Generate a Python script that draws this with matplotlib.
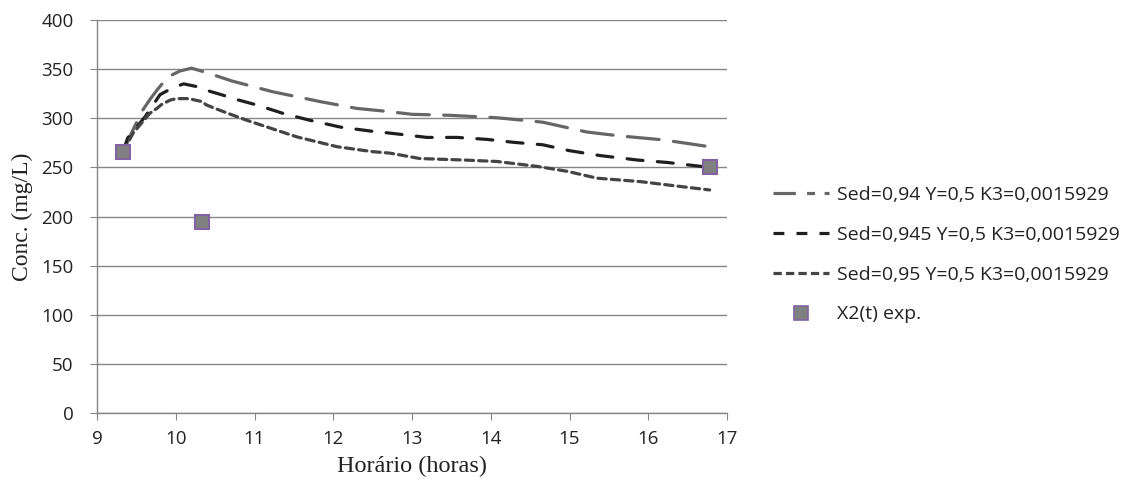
import matplotlib
matplotlib.use("Agg")
import matplotlib.pyplot as plt
from matplotlib.lines import Line2D

# Simulated concentration curves (hours, mg/L)
t_094 = [9.33, 9.45, 9.57, 9.68, 9.78, 9.90, 10.05, 10.20, 10.39, 10.71, 11.23, 11.83, 12.3, 12.68, 13.0, 13.48, 14.08, 14.66, 15.22, 15.64, 16.19, 16.78]
c_094 = [266, 287, 307, 320, 330.5, 342, 348, 351, 346.5, 338, 327, 317, 310, 307, 304, 303, 300.5, 296, 286, 282, 278, 271]

t_0945 = [9.33, 9.39, 9.61, 9.80, 9.95, 10.10, 10.28, 10.43, 10.60, 10.73, 11.03, 11.36, 11.7, 12.09, 12.47, 12.76, 13.19, 13.57, 13.95, 14.29, 14.66, 15.0, 15.39, 15.86, 16.24, 16.78]
c_0945 = [266, 280, 301.5, 324, 330.5, 335, 332, 327.5, 323.5, 320, 313.5, 305, 298, 291, 287, 284.5, 280.5, 280.5, 278.5, 275.5, 273, 267, 262, 257.5, 255, 250]

t_095 = [9.33, 9.46, 9.67, 9.76, 9.82, 9.93, 10.01, 10.14, 10.22, 10.33, 10.39, 10.50, 10.63, 10.73, 10.9, 11.2, 11.54, 12.05, 12.5, 12.72, 13.1, 13.65, 14.08, 14.59, 14.97, 15.35, 15.9, 16.31, 16.78]
c_095 = [266, 285, 305, 310, 314, 318.5, 320, 320, 319, 317, 313.5, 310, 306, 303, 298, 290, 281, 271, 266, 264.5, 259, 257.5, 256, 251, 246, 239, 235.5, 231.5, 227]

# Experimental measurements
t_exp = [9.33, 10.33, 16.78]
c_exp = [266, 194, 250]

labels = ["Sed=0,94 Y=0,5 K3=0,0015929",
          "Sed=0,945 Y=0,5 K3=0,0015929",
          "Sed=0,95 Y=0,5 K3=0,0015929",
          "X2(t) exp."]

xticks = list(range(9, 18))
yticks = list(range(0, 401, 50))

axis_gray = "#868686"
text_col = "#222222"
sans = ["Open Sans", "DejaVu Sans"]
serif = ["Liberation Serif", "DejaVu Serif"]

c1, c2, c3 = "#666666", "#1f1f1f", "#444444"
d1, d2, d3 = (10, 4.5), (5, 4.5), (2.6, 1.6)

fig = plt.figure(figsize=(11.4, 4.88), dpi=100)
ax = fig.add_axes([97 / 1140, 75 / 488, 630 / 1140, 393 / 488])

l1, = ax.plot(t_094, c_094, color=c1, lw=2.3, dashes=d1, dash_capstyle="round")
l2, = ax.plot(t_0945, c_0945, color=c2, lw=2.3, dashes=d2, dash_capstyle="round")
l3, = ax.plot(t_095, c_095, color=c3, lw=2.3, dashes=d3, dash_capstyle="round")
pts, = ax.plot(t_exp, c_exp, ls="none", marker="s", ms=10.5, mfc="#808080",
               mec="#8064a2", mew=1.5, zorder=5)

ax.set_xlim(9, 17)
ax.set_ylim(0, 400)
ax.set_xticks(xticks)
ax.set_yticks(yticks)
ax.yaxis.grid(True, color=axis_gray, lw=1)
ax.set_axisbelow(True)
for s in ["top", "right"]:
    ax.spines[s].set_visible(False)
for s in ["left", "bottom"]:
    ax.spines[s].set_color(axis_gray)
    ax.spines[s].set_linewidth(1)
ax.tick_params(axis="both", direction="out", length=5, color=axis_gray,
               labelsize=13.5, labelcolor=text_col)
ax.tick_params(axis="y", pad=12)
ax.tick_params(axis="x", pad=7)
for lab in ax.get_xticklabels() + ax.get_yticklabels():
    lab.set_fontfamily(sans)

ax.set_xlabel("Horário (horas)", fontfamily=serif, fontsize=17.5, color=text_col, labelpad=6)
ax.set_ylabel("Conc. (mg/L)", fontfamily=serif, fontsize=17, color=text_col, labelpad=6)

# Legend handles: long-dash-short-dash for the first series
h1 = Line2D([], [], color=c1, lw=2.3, dashes=(7, 3.5, 2.5, 3))
h2 = Line2D([], [], color=c2, lw=2.3, dashes=(3.4, 3.8))
h3 = Line2D([], [], color=c3, lw=2.3, dashes=(2.6, 1.3))
hp = Line2D([], [], ls="none", marker="s", ms=10, mfc="#808080", mec="#8064a2", mew=1.2)
leg = fig.legend([h1, h2, h3, hp], labels, loc="upper left",
                 bbox_to_anchor=(773 / 1140, 1 - 186 / 488), frameon=False,
                 prop={"family": sans, "size": 14}, labelspacing=1.12,
                 handlelength=2.9, handletextpad=0.4, labelcolor=text_col,
                 borderaxespad=0, borderpad=0)

fig.savefig("out.png", dpi=100)
